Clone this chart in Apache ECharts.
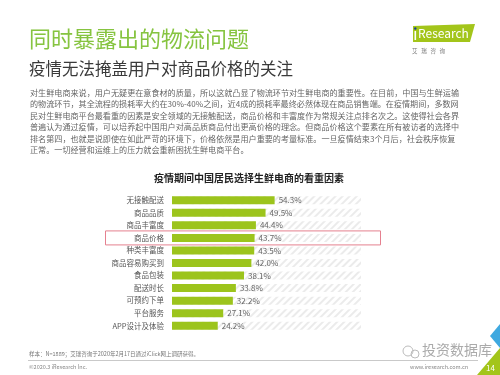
<!DOCTYPE html>
<html><head><meta charset="utf-8">
<script src="https://cdn.jsdelivr.net/npm/echarts@6/dist/echarts.min.js"></script>
<style>html,body{margin:0;padding:0;background:#fff}#c{width:500px;height:375px}</style>
</head><body><div id="c"></div>
<script>
const categories = ['无接触配送','商品品质','商品丰富度','商品价格','种类丰富度','商品容易购买到','食品包装','配送时长','可预约下单','平台服务','APP设计及体验'];
const values = [54.3,49.5,44.4,43.7,43.5,42.0,38.1,33.8,32.2,27.1,24.2];
const highlighted = '商品价格';
const mainTitle = '同时暴露出的物流问题';
const subTitle = '疫情无法掩盖用户对商品价格的关注';
const chartTitle = '疫情期间中国居民选择生鲜电商的看重因素';
const bodyLines = [
 '对生鲜电商来说，用户无疑更在意食材的质量，所以这就凸显了物流环节对生鲜电商的重要性。在目前，中国与生鲜运输',
 '的物流环节，其全流程的损耗率大约在30%-40%之间，近4成的损耗率最终必然体现在商品销售端。在疫情期间，多数网',
 '民对生鲜电商平台最看重的因素是安全领域的无接触配送，商品价格和丰富度作为常规关注点排名次之。这使得社会各界',
 '普遍认为通过疫情，可以培养起中国用户对高品质商品付出更高价格的理念。但商品价格这个要素在所有被访者的选择中',
 '排名第四，也就是说即使在如此严苛的环境下，价格依然是用户重要的考量标准。一旦疫情结束3个月后，社会秩序恢复',
 '正常。一切经营和运维上的压力就会重新困扰生鲜电商平台。'
];
const noteText = '样本：N=1889；艾瑞咨询于2020年2月17日通过iClick网上调研获得。';

const FONT = '"Noto Sans CJK SC", "Noto Sans", sans-serif';
const chart = echarts.init(document.getElementById('c'), null, {renderer:'canvas'});
const GREEN = '#9cc41c';

const graphics = [
  {type:'text', left:29, top:28, style:{text:mainTitle, font:'22px '+FONT, fill:'#86c440'}},
  {type:'text', left:29, top:60, style:{text:subTitle, font:'16.5px '+FONT, fill:'#3a3a3a'}},
  {type:'text', left:154, top:173, style:{text:chartTitle, font:'bold 10px '+FONT, fill:'#222'}},
  // logo
  {type:'polygon', shape:{points:[[413,26],[475,24],[470,42],[413,42]]}, style:{fill:'#a3c51a'}},
  {type:'text', left:418, top:27, style:{text:'Research', font:'12px '+FONT, fill:'#fff'}},
  {type:'rect', shape:{x:414.5,y:31,width:1.6,height:9}, style:{fill:'#fff'}},
  {type:'circle', shape:{cx:415.3,cy:28.5,r:1.2}, style:{fill:'#1c3f94'}},
  {type:'text', left:412, top:48, style:{text:'艾   瑞   咨   询', font:'5.5px '+FONT, fill:'#777'}},
  // footer
  {type:'text', left:29, top:351, style:{text:noteText, font:'5.5px '+FONT, fill:'#777'}},
  {type:'line', shape:{x1:28,y1:360.5,x2:478,y2:360.5}, style:{stroke:'#bbb', lineWidth:0.8}},
  {type:'text', left:29, top:364, style:{text:'©2020.3 iResearch Inc.', font:'5.5px '+FONT, fill:'#888'}},
  {type:'text', left:410, top:364, style:{text:'www.iresearch.com.cn', font:'5.5px '+FONT, fill:'#888'}},
  {type:'text', left:422, top:343, style:{text:'投资数据库', font:'14px '+FONT, fill:'#aaa'}},
  {type:'circle', shape:{cx:408,cy:351,r:5}, style:{fill:'none', stroke:'#bbb', lineWidth:1}},
  {type:'circle', shape:{cx:415,cy:354,r:4}, style:{fill:'none', stroke:'#bbb', lineWidth:1}},
  {type:'polygon', shape:{points:[[477,375],[500,348],[500,375]]}, style:{fill:'#a3c51a'}},
  {type:'polygon', shape:{points:[[490,336],[500,324],[500,348]]}, style:{fill:'#3fa9e0'}},
  {type:'text', left:486, top:364, style:{text:'14', font:'8px '+FONT, fill:'#fff'}}
];
bodyLines.forEach((t,i)=>{
  graphics.push({type:'text', left:30, top:88.5+i*11.5, style:{text:t, font:'8.1px '+FONT, fill:'#666'}});
});

const option = {
  animation:false,
  textStyle:{fontFamily:FONT},
  grid:{left:172, top:194, width:189, height:138, containLabel:false},
  xAxis:{type:'value', min:0, max:100, show:false},
  yAxis:{type:'category', data:categories, inverse:true,
    axisLine:{show:false}, axisTick:{show:false},
    axisLabel:{color:'#555', fontSize:7.5, margin:8}},
  series:[
    {type:'bar', data:categories.map(()=>100), barWidth:8, silent:true,
     itemStyle:{color:'#ffffff', decal:{symbol:'rect', dashArrayX:[1,0], dashArrayY:[1.5,2.5], rotation:-Math.PI/4, color:'#ebebeb', symbolSize:1}}},
    {type:'bar', data:values, barWidth:8, barGap:'-100%',
     itemStyle:{color:GREEN},
     label:{show:true, position:'right', formatter:p=>p.value.toFixed(1)+'%', color:'#666', fontSize:8, distance:4}}
  ],
  graphic:graphics
};
chart.setOption(option);
const cy = chart.convertToPixel({yAxisIndex:0}, highlighted);
chart.setOption({graphic:graphics.concat([{type:'rect', shape:{x:105.5,y:cy-7,width:275,height:14}, style:{fill:'none', stroke:'#e5808f', lineWidth:1}}])});
</script></body></html>
